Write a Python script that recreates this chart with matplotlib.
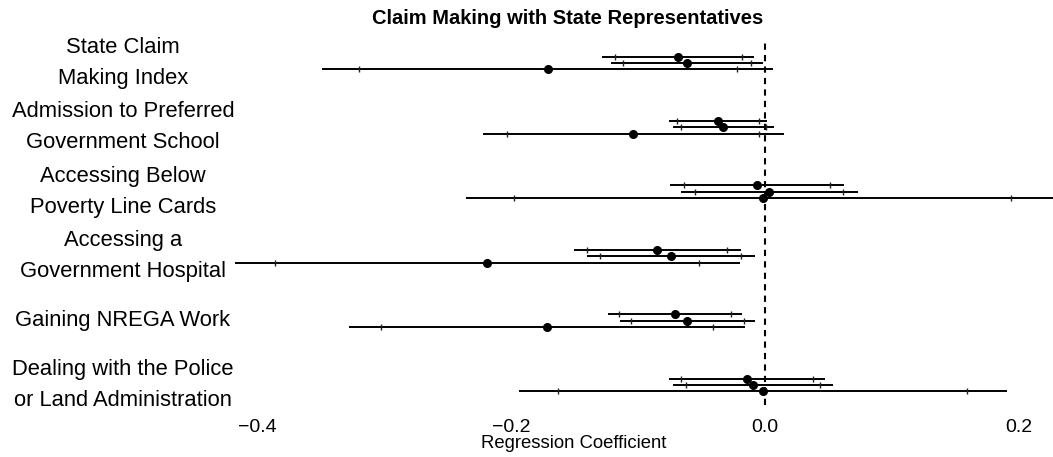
import matplotlib
matplotlib.use("Agg")
import matplotlib.pyplot as plt
import matplotlib.transforms as mtransforms
import numpy as np

plt.rcParams['font.family'] = ['Liberation Sans', 'DejaVu Sans']

# ---- data ----
categories = [
    "State Claim\nMaking Index",
    "Admission to Preferred\nGovernment School",
    "Accessing Below\nPoverty Line Cards",
    "Accessing a\nGovernment Hospital",
    "Gaining NREGA Work",
    "Dealing with the Police\nor Land Administration",
]
# three model specifications per outcome (top, middle, bottom)
coef_m1 = [-0.0683, -0.0368, -0.0065, -0.0849, -0.0709, -0.0141]
se_m1   = [0.0305, 0.0197, 0.0349, 0.0336, 0.0270, 0.0314]
coef_m2 = [-0.0614, -0.0328, 0.0034, -0.0742, -0.0612, -0.0095]
se_m2   = [0.0307, 0.0204, 0.0355, 0.0338, 0.0271, 0.0321]
coef_m3 = [-0.1711, -0.1037, -0.0019, -0.2187, -0.1714, -0.0017]
se_m3   = [0.0905, 0.0604, 0.1190, 0.1014, 0.0795, 0.0979]
xticks = [-0.4, -0.2, 0.0, 0.2]
title = "Claim Making with State Representatives"
xlabel = "Regression Coefficient"

W, H = 1053, 457
fig = plt.figure(figsize=(W / 100, H / 100), dpi=100)
ax = fig.add_axes([200 / W, (H - 405) / H, (W - 200) / W, 365 / H])
ax.set_xlim((200 - 765) / 1270, (W - 765) / 1270)
ax.set_ylim(0.689, 6.357)

n = len(categories)
ypos = np.arange(n, 0, -1)  # top row highest
offsets = [0.1, 0.0, -0.1]
models = [(coef_m1, se_m1), (coef_m2, se_m2), (coef_m3, se_m3)]

for (coefs, ses), off in zip(models, offsets):
    c = np.array(coefs)
    s = np.array(ses)
    y = ypos + off
    ax.hlines(y, c - 1.96 * s, c + 1.96 * s, color='black', lw=1.4, zorder=2)
    ax.plot(np.concatenate([c - 1.645 * s, c + 1.645 * s]),
            np.concatenate([y, y]), ls='none', marker='|', ms=4,
            mew=1.0, color='#222222', zorder=3)
    ax.plot(c, y, 'o', color='black', ms=5.5, zorder=4)

ax.axvline(0, color='black', lw=1.5, ls=(0, (3, 2.5)), zorder=1)

for sp in ax.spines.values():
    sp.set_visible(False)
ax.set_yticks([])
ax.set_xticks(xticks)
ax.set_xticklabels([f"{t:.1f}".replace('-', '\u2212') for t in xticks])
ax.tick_params(axis='x', length=0, pad=10, labelsize=14)

trans = mtransforms.blended_transform_factory(fig.transFigure, ax.transData)
for lab, y in zip(categories, ypos):
    ax.text(123 / W, y, lab, transform=trans, ha='center', va='center',
            fontsize=15.8, linespacing=1.62, clip_on=False)

fig.text(568 / W, 1 - 18 / H, title, ha='center', va='center',
         fontsize=14.5, fontweight='bold')
fig.text(574 / W, 1 - 444 / H, xlabel, ha='center', va='center', fontsize=13.3)

fig.savefig("out.png", dpi=100)
